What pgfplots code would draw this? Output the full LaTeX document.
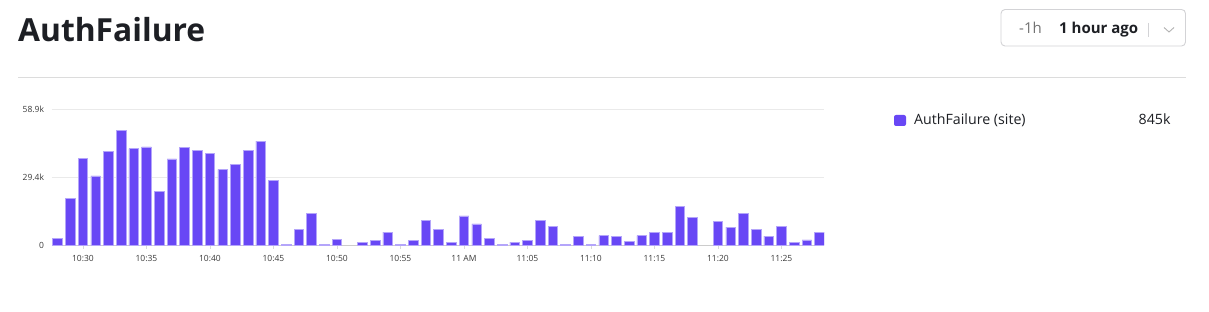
\documentclass[border=0pt]{standalone}
\usepackage{pgfplots}
\pgfplotsset{compat=1.18}
\usepackage{fontspec}
\setmainfont{Open Sans}
\definecolor{barfill}{HTML}{6847F5}
\definecolor{barline}{HTML}{B4A5FA}
\definecolor{titlecol}{HTML}{1D1F24}
\definecolor{rulecol}{HTML}{DCDCDC}
\definecolor{btnborder}{HTML}{D3D3D6}
\definecolor{ticktext}{HTML}{3A3A3A}
\definecolor{gridcol}{HTML}{EAEAEA}
\begin{document}
\begin{tikzpicture}[x=1pt,y=1pt]
\fill[white] (0,0) rectangle (1209,311);
% title
\node[anchor=base west, inner sep=0, font=\fontsize{31.8}{31.8}\selectfont\bfseries, text=titlecol] at (18,269.3) {AuthFailure};
\draw[rulecol, line width=1pt] (18,233.7) -- (1186,233.7);
% time button
\draw[btnborder, line width=0.9pt, rounded corners=4pt] (1001,301.5) rectangle (1185.5,265);
\node[anchor=base west, inner sep=0, font=\fontsize{15}{15}\selectfont, text=black!55] at (1019,277) {-1h};
\node[anchor=base west, inner sep=0, font=\fontsize{15}{15}\selectfont\bfseries, text=titlecol] at (1059,277) {1 hour ago};
\draw[btnborder, line width=0.9pt] (1148.5,288) -- (1148.5,274);
\draw[black!30, line width=0.9pt] (1164,283.5) -- (1169,279) -- (1174,283.5);
% legend
\fill[barfill, rounded corners=2pt] (894,196) rectangle (906,185);
\node[anchor=base west, inner sep=0, font=\fontsize{14.2}{14.2}\selectfont, text=titlecol] at (914,186) {AuthFailure (site)};
\node[anchor=base east, inner sep=0, font=\fontsize{14.2}{14.2}\selectfont, text=titlecol] at (1170.7,186) {845k};
\begin{axis}[
  at={(52pt,66pt)}, anchor=south west,
  width=772pt, height=136pt, scale only axis,
  xmin=-0.44, xmax=60.35, ymin=0, ymax=58.9,
  axis x line*=bottom, axis y line*=left,
  x axis line style={draw=black!20, line width=0.8pt},
  y axis line style={draw=none},
  xtick={2,7,12,17,22,27,32,37,42,47,52,57},
  xticklabels={10:30,10:35,10:40,10:45,10:50,10:55,11 AM,11:05,11:10,11:15,11:20,11:25},
  ytick={0,29.4,58.9},
  yticklabels={0,29.4k,58.9k},
  xtick style={draw=black!15, line width=0.6pt},
  major tick length=3.5pt,
  tick align=outside,
  ytick style={draw=none},
  ymajorgrids, grid style={gridcol, line width=0.8pt},
  xticklabel style={font=\fontsize{8.5}{8.5}\selectfont, text=ticktext, yshift=-3pt},
  yticklabel style={font=\fontsize{8.5}{8.5}\selectfont, text=ticktext, xshift=-1pt},
  ybar, bar width=9.6pt,
]
\addplot[fill=barfill, draw=barline, line width=0.7pt] coordinates {
(0,2.7) (1,20.3) (2,37.6) (3,29.9) (4,40.4) (5,49.5) (6,41.7) (7,42.5) (8,23.3) (9,37.3)
(10,42.4) (11,40.8) (12,39.6) (13,32.8) (14,34.9) (15,40.8) (16,45.0) (17,28.1) (18,0.4) (19,6.7)
(20,13.7) (21,0.3) (22,2.5) (24,1.0) (25,1.9) (26,5.6) (27,0.3) (28,2.0) (29,10.6)
(30,6.9) (31,1.2) (32,12.6) (33,9.1) (34,3.0) (35,0.3) (36,1.2) (37,2.0) (38,10.6) (39,8.2)
(40,0.3) (41,3.8) (42,0.3) (43,4.1) (44,3.8) (45,1.4) (46,4.1) (47,5.6) (48,5.6) (49,16.8)
(50,12.0) (52,10.3) (53,7.7) (54,13.5) (55,6.9) (56,3.8) (57,8.1) (58,1.2) (59,2.2)
(60,5.6)
};
\end{axis}
\end{tikzpicture}
\end{document}
